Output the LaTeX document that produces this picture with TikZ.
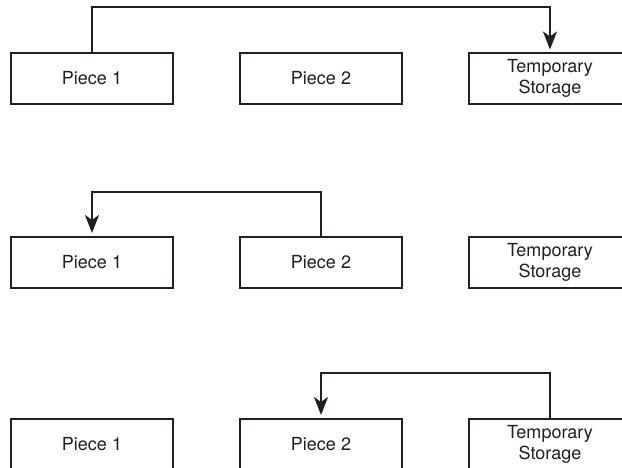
\documentclass[tikz,border=0pt]{standalone}
\usepackage{fontspec}
\setmainfont{TeX Gyre Heros}
\usetikzlibrary{arrows.meta}
\definecolor{ink}{HTML}{231F20}
\begin{document}
\begin{tikzpicture}[x=1pt,y=-1pt,
  box/.style={draw=ink, line width=2pt, minimum width=162pt, minimum height=51pt,
    inner sep=0pt, align=center, text=ink,
    font=\fontsize{18}{21}\selectfont},
  link/.style={draw=ink, line width=2pt},
  flow/.style={link, -{Stealth[length=18pt, width=14pt, inset=5pt]}, shorten >=2.5pt}]
  \clip (0,0) rectangle (622,467);
  \fill[white] (0,0) rectangle (622,467);

  % first step: piece 1 goes to temporary storage
  \node[box] (pa1) at (92,78.5) {Piece 1};
  \node[box] (pb1) at (321,78.5) {Piece 2};
  \node[box] (ts1) at (550,78.5) {Temporary\\Storage};
  \draw[flow] (pa1.north) -- ++(0,-45) -| (ts1.north);

  % second step: piece 2 goes to the slot of piece 1
  \node[box] (pa2) at (92,262) {Piece 1};
  \node[box] (pb2) at (321,262) {Piece 2};
  \node[box] (ts2) at (550,262) {Temporary\\Storage};
  \draw[flow] (pb2.north) -- ++(0,-44) -| (pa2.north);

  % third step: temporary storage goes to the slot of piece 2
  \node[box] (pa3) at (92,444) {Piece 1};
  \node[box] (pb3) at (321,444) {Piece 2};
  \node[box] (ts3) at (550,444) {Temporary\\Storage};
  \draw[flow] (ts3.north) -- ++(0,-45) -| (pb3.north);
\end{tikzpicture}
\end{document}
